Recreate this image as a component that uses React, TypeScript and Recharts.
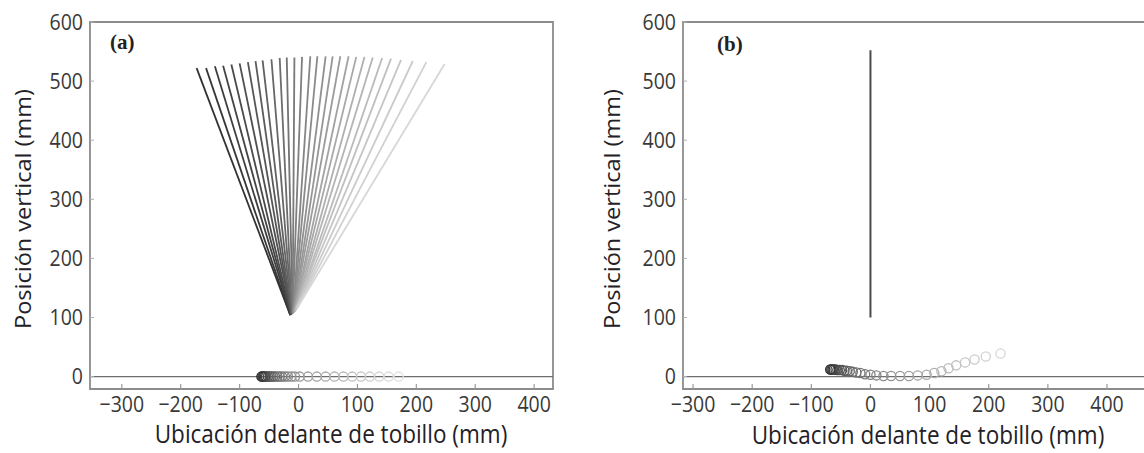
import React from "react";
import { ScatterChart, Scatter, XAxis, YAxis, ReferenceLine, ReferenceArea } from "recharts";

const xTicks = [-300, -200, -100, 0, 100, 200, 300, 400];
const yTicks = [0, 100, 200, 300, 400, 500, 600];

// panel (a): leg segments, from the base near the ankle to the top
const fanTopX = [-173, -157, -142, -128, -114, -100, -86, -73, -61, -46, -32, -20, -7, 6, 20, 32, 46, 58, 71, 85, 98, 112, 126, 142, 157, 174, 194, 217, 248];
const fanTopY = [522, 522, 525, 526, 528, 530, 532, 534, 535, 537, 539, 540, 540, 541, 542, 542, 542, 542, 542, 542, 541, 541, 540, 539, 538, 536, 534, 532, 529];
const fanBaseX = [-14, -14, -13, -13, -13, -12, -12, -12, -11, -11, -11, -10, -10, -10, -9, -9, -9, -8, -8, -7, -7, -6, -6, -5, -5, -4, -3, -2, -1];
const fanBaseY = [104, 104, 104, 105, 105, 105, 105, 106, 106, 106, 106, 107, 107, 107, 108, 108, 108, 109, 109, 110, 110, 111, 111, 112, 113, 114, 115, 116, 118];

// panel (a): foot markers
const footAX = [-63, -61, -59, -57, -55, -52, -49, -46, -43, -40, -36, -32, -28, -23, -18, -12, -6, 2, 16, 31, 46, 61, 76, 91, 106, 121, 137, 153, 170];
const footAY = [0, 0, 0, 0, 0, 0, 0, 0, 0, 0, 0, 0, 0, 0, 0, 0, 0, 0, 0, 0, 0, 0, 0, 0, 0, 0, 0, 0, 0];

// panel (b): upright segment and foot markers
const poleX = [0, 0];
const poleY = [100, 552];
const footBX = [-68, -66, -64, -62, -59, -56, -52, -48, -44, -40, -35, -30, -24, -17, -9, 0, 10, 22, 35, 50, 65, 80, 95, 108, 120, 132, 145, 160, 176, 195, 220];
const footBY = [12, 12, 12, 12, 12, 11, 11, 11, 10, 10, 9, 8, 7, 6, 4, 3, 2, 1, 1, 1, 1, 2, 3, 6, 9, 14, 19, 24, 29, 34, 39];

const yDomain: [number, number] = [-21, 600];

function shade(i: number, n: number, from: number, to: number) {
  const v = Math.round(from + ((to - from) * i) / Math.max(n - 1, 1));
  return `rgb(${v},${v},${v})`;
}

const fmt = (v: number) => (v < 0 ? `\u2212${Math.abs(v)}` : `${v}`);

const XTick = (props: any) => {
  const { x, y, payload } = props;
  return (
    <g>
      <line x1={x} x2={x} y1={y} y2={y - 5} stroke="#9a9a9a" strokeWidth={1.2} />
      <text
        transform={`translate(${x} ${y + 23}) scale(1 1.12)`}
        textAnchor="middle"
        fontSize={19.5}
        fill="#383838"
        fontFamily='"Open Sans", sans-serif'
      >
        {fmt(payload.value)}
      </text>
    </g>
  );
};

const YTick = (props: any) => {
  const { x, y, payload } = props;
  return (
    <g>
      <line x1={x} x2={x + 4} y1={y} y2={y} stroke="#b0b0b0" strokeWidth={1} />
      <text
        transform={`translate(${x - 7} ${y + 7.5}) scale(1 1.12)`}
        textAnchor="end"
        fontSize={19.5}
        fill="#383838"
        fontFamily='"Open Sans", sans-serif'
      >
        {fmt(payload.value)}
      </text>
    </g>
  );
};

function Ring(props: any) {
  const { cx, cy, payload } = props;
  if (cx == null || cy == null) return null;
  return <circle cx={cx} cy={cy} r={4.6} fill="none" stroke={payload.color} strokeWidth={1.3} />;
}

type PanelProps = {
  left: number;
  width: number;
  marginRight: number;
  xDomain: [number, number];
  children: React.ReactNode;
};

function Panel({ left, width, marginRight, xDomain, children }: PanelProps) {
  return (
    <div style={{ position: "absolute", left, top: 0 }}>
      <ScatterChart width={width} height={453} margin={{ top: 22, right: marginRight, bottom: 34, left: 0 }}>
        <XAxis
          type="number"
          dataKey="x"
          domain={xDomain}
          ticks={xTicks}
          allowDataOverflow
          axisLine={false}
          tickLine={false}
          tickSize={0}
          tickMargin={0}
          height={30}
          tick={<XTick />}
          interval={0}
        />
        <YAxis
          type="number"
          dataKey="y"
          domain={yDomain}
          ticks={yTicks}
          allowDataOverflow
          axisLine={false}
          tickLine={false}
          tickSize={0}
          tickMargin={0}
          width={90}
          tick={<YTick />}
          interval={0}
        />
        <ReferenceLine y={0} stroke="#6e6e6e" strokeWidth={1.2} />
        {children}
        <ReferenceArea
          x1={xDomain[0]}
          x2={xDomain[1]}
          y1={yDomain[0]}
          y2={yDomain[1]}
          fill="none"
          fillOpacity={0}
          stroke="#8c8c8c"
          strokeWidth={1.8}
          ifOverflow="visible"
        />
      </ScatterChart>
    </div>
  );
}

const labelStyle: React.CSSProperties = {
  position: "absolute",
  fontFamily: '"Open Sans", sans-serif',
  color: "#232026",
  whiteSpace: "nowrap",
  lineHeight: 1,
};

export default function App() {
  const n = fanTopX.length;
  const footA = footAX.map((x, i) => ({ x, y: footAY[i], color: shade(i, footAX.length, 40, 225) }));
  const footB = footBX.map((x, i) => ({ x, y: footBY[i], color: shade(i, footBX.length, 40, 215) }));

  return (
    <div style={{ position: "absolute", left: 0, top: 0, width: 1144, height: 453, overflow: "hidden", background: "#fff" }}>
      <Panel left={0} width={580} marginRight={27} xDomain={[-354, 432]}>
        {fanTopX.map((tx, i) => (
          <ReferenceLine
            key={`fan-${i}`}
            segment={[
              { x: fanBaseX[i], y: fanBaseY[i] },
              { x: tx, y: fanTopY[i] },
            ]}
            stroke={shade(i, n, 50, 215)}
            strokeWidth={1.8}
            ifOverflow="visible"
          />
        ))}
        <Scatter data={footA} shape={<Ring />} isAnimationActive={false} />
      </Panel>

      <Panel left={593} width={592} marginRight={10} xDomain={[-317, 515]}>
        <ReferenceLine
          segment={[
            { x: poleX[0], y: poleY[0] },
            { x: poleX[1], y: poleY[1] },
          ]}
          stroke="#4a4a4a"
          strokeWidth={2}
          ifOverflow="visible"
        />
        <Scatter data={footB} shape={<Ring />} isAnimationActive={false} />
      </Panel>

      <div style={{ position: "absolute", left: 110, top: 30, fontFamily: '"Liberation Serif", serif', fontWeight: "bold", fontSize: 21, color: "#222" }}>(a)</div>
      <div style={{ position: "absolute", left: 717, top: 32, fontFamily: '"Liberation Serif", serif', fontWeight: "bold", fontSize: 21, color: "#222" }}>(b)</div>

      <div style={{ ...labelStyle, fontSize: 21, left: 23, top: 209, transform: "translate(-50%, -50%) rotate(-90deg) scale(1.12, 1)" }}>Posición vertical (mm)</div>
      <div style={{ ...labelStyle, fontSize: 21, left: 612, top: 209, transform: "translate(-50%, -50%) rotate(-90deg) scale(1.12, 1)" }}>Posición vertical (mm)</div>

      <div style={{ ...labelStyle, fontSize: 22.5, left: 331, top: 434, transform: "translate(-50%, -50%) scale(1, 1.1)" }}>Ubicación delante de tobillo (mm)</div>
      <div style={{ ...labelStyle, fontSize: 22.5, left: 928, top: 435, transform: "translate(-50%, -50%) scale(1, 1.1)" }}>Ubicación delante de tobillo (mm)</div>
    </div>
  );
}
